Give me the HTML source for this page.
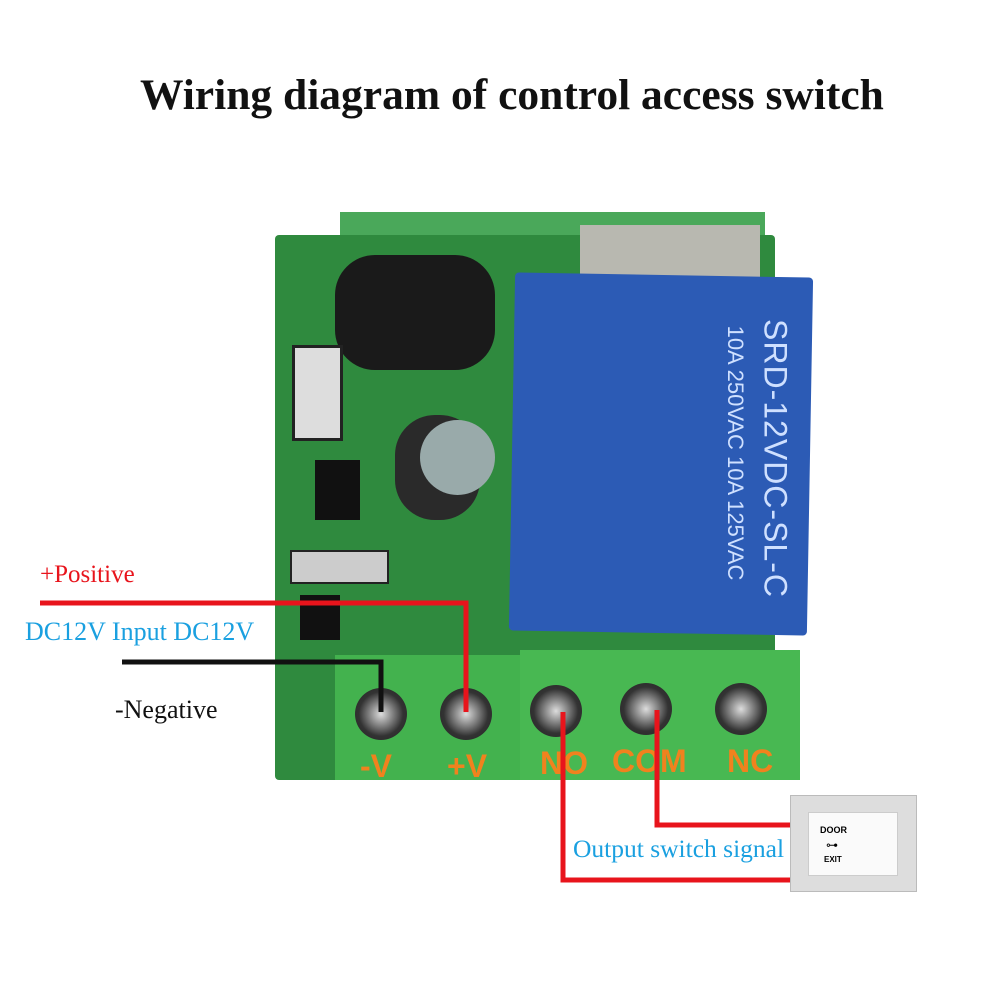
<!DOCTYPE html>
<html><head><meta charset="utf-8"><style>
body{margin:0;width:1002px;height:1002px;background:#fff;position:relative;overflow:hidden;font-family:"Liberation Serif",serif}
.a{position:absolute}
.t{position:absolute;white-space:nowrap}
.scr{position:absolute;width:52px;height:52px;border-radius:50%;background:radial-gradient(circle,#ddd 0,#888 30%,#333 60%,#222 100%)}
.lbl{position:absolute;color:#f0821e;font-family:"Liberation Sans",sans-serif;font-weight:bold;font-size:32px}
</style></head><body>
<div class="t" style="left:140px;top:70px;font-size:43.5px;font-weight:bold;color:#111">Wiring diagram of control access switch</div>

<!-- PCB -->
<div class="a" style="left:340px;top:212px;width:425px;height:50px;background:#4aa85a"></div>
<div class="a" style="left:275px;top:235px;width:500px;height:545px;background:#2f8a3e;border-radius:4px"></div>
<div class="a" style="left:580px;top:225px;width:180px;height:55px;background:#b8b8b0"></div>
<div class="a" style="left:335px;top:255px;width:160px;height:115px;background:#1a1a1a;border-radius:40px"></div>
<div class="a" style="left:292px;top:345px;width:45px;height:90px;background:#ddd;border:3px solid #222"></div>
<div class="a" style="left:395px;top:415px;width:85px;height:105px;background:#2a2a2a;border-radius:40px"></div>
<div class="a" style="left:420px;top:420px;width:75px;height:75px;background:#9aa;border-radius:50%"></div>
<div class="a" style="left:315px;top:460px;width:45px;height:60px;background:#111"></div>
<div class="a" style="left:290px;top:550px;width:95px;height:30px;background:#ccc;border:2px solid #222"></div>
<div class="a" style="left:300px;top:595px;width:40px;height:45px;background:#111"></div>
<!-- relay -->
<div class="a" style="left:512px;top:275px;width:298px;height:358px;background:#2c5bb5;transform:rotate(1deg);border-radius:4px"></div>
<div class="t" style="left:610px;top:440px;color:#cfe0ff;font-family:'Liberation Sans',sans-serif;font-size:32px;transform:rotate(90deg);transform-origin:center;width:330px;text-align:center;letter-spacing:1px">SRD-12VDC-SL-C</div>
<div class="t" style="left:570px;top:440px;color:#cfe0ff;font-family:'Liberation Sans',sans-serif;font-size:22px;transform:rotate(90deg);transform-origin:center;width:330px;text-align:center">10A 250VAC 10A 125VAC</div>
<!-- terminal block -->
<div class="a" style="left:335px;top:655px;width:190px;height:125px;background:#43b24e"></div>
<div class="a" style="left:520px;top:650px;width:280px;height:130px;background:#48b852"></div>
<div class="scr" style="left:355px;top:688px"></div>
<div class="scr" style="left:440px;top:688px"></div>
<div class="scr" style="left:530px;top:685px"></div>
<div class="scr" style="left:620px;top:683px"></div>
<div class="scr" style="left:715px;top:683px"></div>
<div class="lbl" style="left:360px;top:748px">-V</div>
<div class="lbl" style="left:447px;top:748px">+V</div>
<div class="lbl" style="left:540px;top:745px">NO</div>
<div class="lbl" style="left:612px;top:743px">COM</div>
<div class="lbl" style="left:727px;top:743px">NC</div>

<!-- wires -->
<svg class="a" style="left:0;top:0" width="1002" height="1002">
<polyline points="40,603 466,603 466,712" fill="none" stroke="#e8141c" stroke-width="5"/>
<polyline points="122,662 381,662 381,712" fill="none" stroke="#111" stroke-width="5"/>
<polyline points="563,712 563,880 795,880" fill="none" stroke="#e8141c" stroke-width="5"/>
<polyline points="657,710 657,825 795,825" fill="none" stroke="#e8141c" stroke-width="5"/>
</svg>
<div class="t" style="left:40px;top:561px;font-size:25px;color:#e8141c">+Positive</div>
<div class="t" style="left:25px;top:617px;font-size:26px;color:#1aa0e0">DC12V Input DC12V</div>
<div class="t" style="left:115px;top:695px;font-size:26px;color:#111">-Negative</div>
<div class="t" style="left:573px;top:834px;font-size:25.5px;color:#1aa0e0">Output switch signal</div>

<!-- exit button -->
<div class="a" style="left:790px;top:795px;width:125px;height:95px;background:#ddd;border:1px solid #bbb"></div>
<div class="a" style="left:808px;top:812px;width:88px;height:62px;background:#fafafa;border:1px solid #ccc"></div>
<div class="t" style="left:820px;top:825px;font-family:'Liberation Sans',sans-serif;font-size:9px;font-weight:bold">DOOR</div>
<div class="t" style="left:826px;top:838px;font-size:12px">⊶</div>
<div class="t" style="left:824px;top:855px;font-family:'Liberation Sans',sans-serif;font-size:8px;font-weight:bold">EXIT</div>
</body></html>
